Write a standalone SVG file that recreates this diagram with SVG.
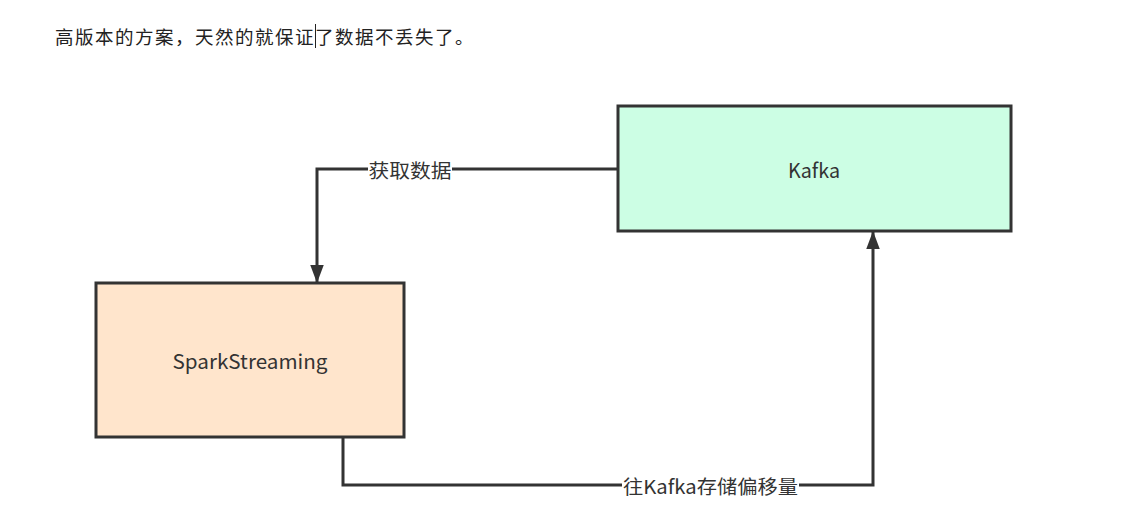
<svg xmlns="http://www.w3.org/2000/svg" width="1134" height="509" viewBox="0 0 1134 509">
<defs>
<style>
.box{stroke:#333;stroke-width:3}
.t{font-family:"Noto Sans CJK SC","Noto Sans",sans-serif;fill:#333;font-size:20px;text-anchor:middle;dominant-baseline:central}
.edge{fill:none;stroke:#333;stroke-width:3}
.lbl{font-family:"Noto Sans CJK SC","Noto Sans",sans-serif;fill:#333;font-size:19px;text-anchor:middle;dominant-baseline:central}
.lblbg{fill:#fff}
</style>
<marker id="arrh" markerUnits="userSpaceOnUse" markerWidth="18" markerHeight="26" refX="24" refY="9" viewBox="0 0 24 18" orient="auto">
<path d="M0,0 L24,9 L0,18 z" fill="#333"/>
</marker>
</defs>
<rect width="1134" height="509" fill="#fff"/>
<g id="caption">
<text x="55" y="36" font-family="'Noto Sans CJK SC',sans-serif" font-size="18.5" letter-spacing="1.5" fill="#222" dominant-baseline="central">高版本的方案，天然的就保证了数据不丢失了。</text>
<line x1="315.5" y1="24" x2="315.5" y2="48" stroke="#222" stroke-width="1"/>
</g>
<g id="connectors">
<path class="edge" d="M618,169 H317 V283" marker-end="url(#arrh)"/>
<rect class="lblbg" x="368" y="158" width="84" height="22"/>
<text class="lbl" x="410" y="169" textLength="83" lengthAdjust="spacingAndGlyphs">获取数据</text>
<path class="edge" d="M343,437 V485 H873 V231" marker-end="url(#arrh)"/>
<rect class="lblbg" x="622" y="474" width="177" height="22"/>
<text class="lbl" x="710.5" y="485" textLength="175" lengthAdjust="spacingAndGlyphs">往Kafka存储偏移量</text>
</g>
<g id="kafka">
<rect class="box" x="618" y="106" width="393" height="125" fill="#ccfee4"/>
<text class="t" x="814" y="169" textLength="52" lengthAdjust="spacingAndGlyphs">Kafka</text>
</g>
<g id="spark">
<rect class="box" x="96" y="283" width="308" height="154" fill="#ffe5cc"/>
<text class="t" x="250" y="360" textLength="155" lengthAdjust="spacingAndGlyphs">SparkStreaming</text>
</g>
</svg>
